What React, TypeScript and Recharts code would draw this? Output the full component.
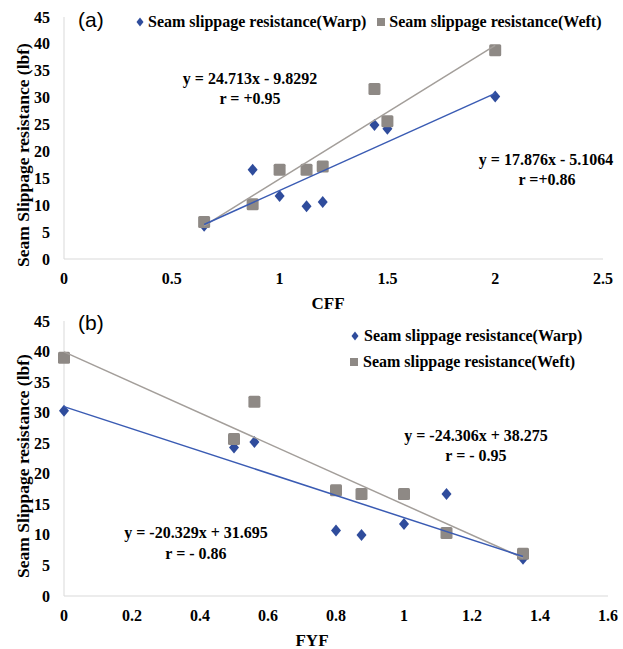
import React from 'react';
import { ScatterChart, Scatter, XAxis, YAxis, Legend } from 'recharts';

// ---------- data ----------
const cffValues = [0.65, 0.875, 1.0, 1.125, 1.2, 1.44, 1.5, 2.0];
const warpByCff = [6.2, 16.6, 11.7, 9.8, 10.6, 24.9, 24.2, 30.2];
const weftByCff = [6.9, 10.2, 16.6, 16.6, 17.2, 31.6, 25.6, 38.8];

const fyfValues = [0, 0.5, 0.56, 0.8, 0.875, 1.0, 1.125, 1.35];
const warpByFyf = [30.3, 24.3, 25.2, 10.7, 10.0, 11.8, 16.7, 6.1];
const weftByFyf = [39.0, 25.7, 31.8, 17.3, 16.7, 16.7, 10.3, 6.9];

const cffTicks = [0, 0.5, 1, 1.5, 2, 2.5];
const fyfTicks = [0, 0.2, 0.4, 0.6, 0.8, 1, 1.2, 1.4, 1.6];
const yTicks = [0, 5, 10, 15, 20, 25, 30, 35, 40, 45];

const warpLabel = 'Seam slippage resistance(Warp)';
const weftLabel = 'Seam slippage resistance(Weft)';
const yTitle = 'Seam Slippage resistance (lbf)';

// ---------- styles ----------
const BLUE = '#2F4C9C';
const BLUE_LINE = '#3A5BB3';
const GRAY = '#8E8985';
const GRAY_LINE = '#A39E9A';
const AXIS = '#D9D9D9';
const SERIF = "'Liberation Serif', 'Times New Roman', serif";
const SANS = "'Liberation Sans', Arial, sans-serif";

const toPoints = (xs: number[], ys: number[]) => xs.map((x, i) => ({ x, y: ys[i] }));

function trend(xs: number[], ys: number[]) {
  const n = xs.length;
  const mx = xs.reduce((a, b) => a + b, 0) / n;
  const my = ys.reduce((a, b) => a + b, 0) / n;
  let sxy = 0;
  let sxx = 0;
  for (let i = 0; i < n; i++) {
    sxy += (xs[i] - mx) * (ys[i] - my);
    sxx += (xs[i] - mx) * (xs[i] - mx);
  }
  const slope = sxy / sxx;
  const intercept = my - slope * mx;
  const x0 = Math.min(...xs);
  const x1 = Math.max(...xs);
  return [
    { x: x0, y: slope * x0 + intercept },
    { x: x1, y: slope * x1 + intercept },
  ];
}

const Diamond = (props: any) => {
  const { cx, cy } = props;
  if (cx == null || cy == null) return <g />;
  return (
    <polygon
      points={`${cx},${cy - 6} ${cx + 5},${cy} ${cx},${cy + 6} ${cx - 5},${cy}`}
      fill={BLUE}
    />
  );
};

const Square = (props: any) => {
  const { cx, cy } = props;
  if (cx == null || cy == null) return <g />;
  return <rect x={cx - 6} y={cy - 6} width={12} height={12} rx={1.5} fill={GRAY} />;
};

const NoShape = () => <g />;

const serifBold: React.CSSProperties = { fontFamily: SERIF, fontWeight: 'bold' };

const XTick = (props: any) => {
  const { x, y, payload } = props;
  return (
    <text x={x} y={y + 17} textAnchor="middle" fontSize={16} fill="#000" style={serifBold}>
      {String(payload.value)}
    </text>
  );
};

const YTick = (props: any) => {
  const { x, y, payload } = props;
  return (
    <text x={x} y={y + 5.5} textAnchor="end" fontSize={16} fill="#000" style={serifBold}>
      {String(payload.value)}
    </text>
  );
};

const legendText: React.CSSProperties = {
  fontFamily: SERIF,
  fontWeight: 'bold',
  fontSize: 16,
  color: '#000',
  whiteSpace: 'nowrap',
  lineHeight: '20px',
};

const DiamondIcon = () => (
  <svg width={10} height={20} style={{ display: 'block' }}>
    <polygon points="5,5.5 8.5,10 5,14.5 1.5,10" fill={BLUE} />
  </svg>
);
const SquareIcon = () => (
  <svg width={10} height={20} style={{ display: 'block' }}>
    <rect x={1} y={6} width={8} height={8} fill={GRAY} />
  </svg>
);

const LegendRow = () => (
  <div style={{ display: 'flex', alignItems: 'center' }}>
    <DiamondIcon />
    <span style={{ ...legendText, marginLeft: 3 }}>{warpLabel}</span>
    <span style={{ width: 10 }} />
    <SquareIcon />
    <span style={{ ...legendText, marginLeft: 3 }}>{weftLabel}</span>
  </div>
);

const LegendColumn = () => (
  <div style={{ display: 'flex', flexDirection: 'column', gap: 6 }}>
    <div style={{ display: 'flex', alignItems: 'center' }}>
      <DiamondIcon />
      <span style={{ ...legendText, marginLeft: 4 }}>{warpLabel}</span>
    </div>
    <div style={{ display: 'flex', alignItems: 'center', marginLeft: -1 }}>
      <SquareIcon />
      <span style={{ ...legendText, marginLeft: 4 }}>{weftLabel}</span>
    </div>
  </div>
);

const Txt = ({ x, y, children, size = 16, anchor = 'middle', font = SERIF, bold = true }: any) => (
  <text
    x={x}
    y={y}
    textAnchor={anchor}
    fontSize={size}
    fill="#000"
    style={{ fontFamily: font, fontWeight: bold ? 'bold' : 'normal' }}
  >
    {children}
  </text>
);

const VTitle = ({ cx, cy }: any) => (
  <g transform={`translate(${cx},${cy}) rotate(-90)`}>
    <text x={0} y={6} textAnchor="middle" fontSize={17.5} fill="#000" style={serifBold}>
      {yTitle}
    </text>
  </g>
);

export default function App() {
  const warpA = toPoints(cffValues, warpByCff);
  const weftA = toPoints(cffValues, weftByCff);
  const warpB = toPoints(fyfValues, warpByFyf);
  const weftB = toPoints(fyfValues, weftByFyf);

  return (
    <div
      style={{
        position: 'absolute',
        left: 0,
        top: 0,
        width: 623,
        height: 649,
        background: '#fff',
        overflow: 'hidden',
      }}
    >
      {/* Chart (a) */}
      <div style={{ position: 'absolute', left: 0, top: 0 }}>
        <ScatterChart width={623} height={320} margin={{ top: 17, right: 20, bottom: 16, left: 0 }}>
          <XAxis
            type="number"
            dataKey="x"
            domain={[0, 2.5]}
            ticks={cffTicks}
            interval={0}
            axisLine={{ stroke: AXIS }}
            tickLine={false}
            tick={<XTick />}
            height={45}
          />
          <YAxis
            type="number"
            dataKey="y"
            domain={[0, 45]}
            ticks={yTicks}
            interval={0}
            axisLine={{ stroke: AXIS }}
            tickLine={false}
            tick={<YTick />}
            tickMargin={8}
            width={64}
          />
          <Legend
            layout="horizontal"
            verticalAlign="middle"
            align="center"
            wrapperStyle={{ left: 135, top: 12, width: 480 }}
            content={() => <LegendRow />}
          />
          <Scatter data={warpA} shape={<Diamond />} isAnimationActive={false} />
          <Scatter data={weftA} shape={<Square />} isAnimationActive={false} />
          <Scatter
            data={trend(cffValues, weftByCff)}
            shape={<NoShape />}
            line={{ stroke: GRAY_LINE, strokeWidth: 1.5 }}
            isAnimationActive={false}
          />
          <Scatter
            data={trend(cffValues, warpByCff)}
            shape={<NoShape />}
            line={{ stroke: BLUE_LINE, strokeWidth: 1.5 }}
            isAnimationActive={false}
          />
        </ScatterChart>
      </div>

      {/* Chart (b) */}
      <div style={{ position: 'absolute', left: 0, top: 300 }}>
        <ScatterChart width={623} height={349} margin={{ top: 21, right: 15, bottom: 23, left: 0 }}>
          <XAxis
            type="number"
            dataKey="x"
            domain={[0, 1.6]}
            ticks={fyfTicks}
            interval={0}
            axisLine={{ stroke: AXIS }}
            tickLine={false}
            tick={<XTick />}
            height={30}
          />
          <YAxis
            type="number"
            dataKey="y"
            domain={[0, 45]}
            ticks={yTicks}
            interval={0}
            axisLine={{ stroke: AXIS }}
            tickLine={false}
            tick={<YTick />}
            tickMargin={8}
            width={64}
          />
          <Legend
            layout="horizontal"
            verticalAlign="middle"
            align="center"
            wrapperStyle={{ left: 350, top: 26, width: 260 }}
            content={() => <LegendColumn />}
          />
          <Scatter data={warpB} shape={<Diamond />} isAnimationActive={false} />
          <Scatter data={weftB} shape={<Square />} isAnimationActive={false} />
          <Scatter
            data={trend(fyfValues, weftByFyf)}
            shape={<NoShape />}
            line={{ stroke: GRAY_LINE, strokeWidth: 1.5 }}
            isAnimationActive={false}
          />
          <Scatter
            data={trend(fyfValues, warpByFyf)}
            shape={<NoShape />}
            line={{ stroke: BLUE_LINE, strokeWidth: 1.5 }}
            isAnimationActive={false}
          />
        </ScatterChart>
      </div>

      {/* Annotations */}
      <svg
        width={623}
        height={649}
        style={{ position: 'absolute', left: 0, top: 0, pointerEvents: 'none' }}
      >
        <Txt x={78} y={27} anchor="start" font={SANS} bold={false} size={21}>(a)</Txt>
        <Txt x={78} y={330} anchor="start" font={SANS} bold={false} size={21}>(b)</Txt>

        <Txt x={250} y={83.5}>y = 24.713x - 9.8292</Txt>
        <Txt x={250} y={103.5}>r = +0.95</Txt>
        <Txt x={546} y={164.5}>y = 17.876x - 5.1064</Txt>
        <Txt x={547} y={184.5}>r =+0.86</Txt>

        <Txt x={476} y={440.5}>y = -24.306x + 38.275</Txt>
        <Txt x={476} y={460.5}>r = - 0.95</Txt>
        <Txt x={196} y={537.5}>y = -20.329x + 31.695</Txt>
        <Txt x={196} y={558.5}>r = - 0.86</Txt>

        <Txt x={328} y={309} size={17}>CFF</Txt>
        <Txt x={312} y={646} size={17}>FYF</Txt>

        <VTitle cx={23} cy={155} />
        <VTitle cx={23} cy={466} />
      </svg>
    </div>
  );
}
